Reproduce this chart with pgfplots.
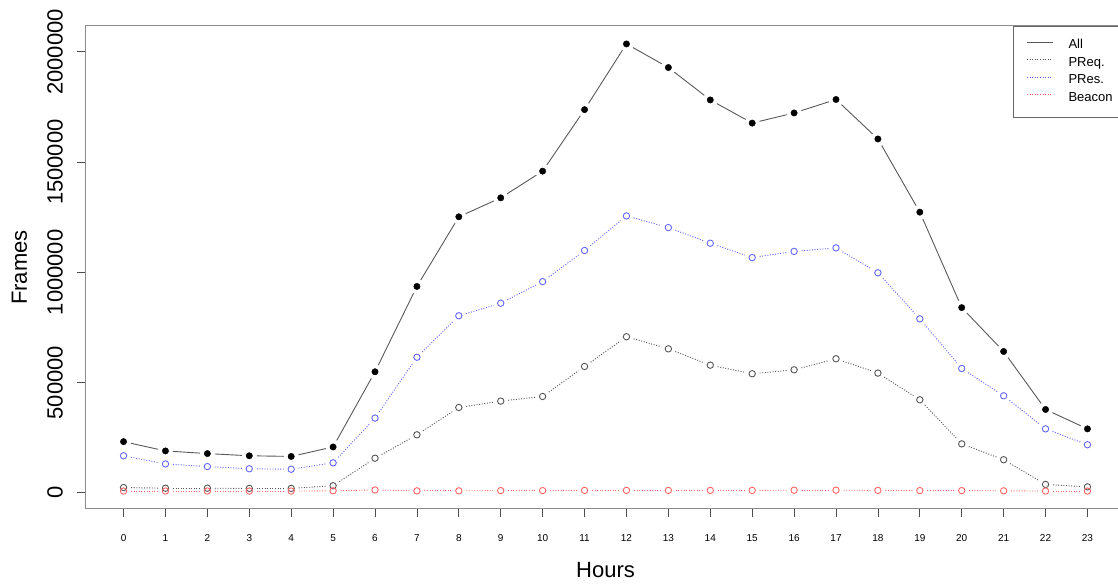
\documentclass[border=0pt]{standalone}
\usepackage{fontspec}
\setmainfont{Liberation Sans}
\usepackage{pgfplots}
\usepackage{pgfplotstable}
\pgfplotsset{compat=1.18}

\definecolor{rblue}{RGB}{100,100,255}
\definecolor{rred}{RGB}{255,100,100}
\definecolor{rgray}{RGB}{85,85,85}

% frames captured per hour of the day
\pgfplotstableread{
h  all      preq    pres     beacon
0  232000   24000   168000   8000
1  190000   21000   131000   8000
2  178000   21000   119000   8000
3  168000   20000   109000   8000
4  165000   20000   107000   8000
5  208000   32000   136000   9000
6  549000   157000  339000   13000
7  936000   263000  615000   9000
8  1252000  387000  803000   9000
9  1338000  416000  860000   10000
10 1459000  437000  958000   10000
11 1738000  573000  1099000  11000
12 2036000  708000  1256000  11000
13 1929000  653000  1203000  11000
14 1782000  579000  1132000  11000
15 1677000  540000  1067000  11000
16 1723000  558000  1095000  12000
17 1784000  608000  1111000  12000
18 1605000  543000  998000   11000
19 1273000  422000  789000   10000
20 840000   222000  564000   10000
21 641000   150000  440000   9000
22 378000   38000   290000   8000
23 290000   27000   218000   8000
}\frames

% step to the next hour, so each segment can be drawn on its own
\pgfplotstablecreatecol[create col/expr={\nextrow{all}-\thisrow{all}}]{dall}{\frames}
\pgfplotstablecreatecol[create col/expr={\nextrow{preq}-\thisrow{preq}}]{dpreq}{\frames}
\pgfplotstablecreatecol[create col/expr={\nextrow{pres}-\thisrow{pres}}]{dpres}{\frames}
\pgfplotstablecreatecol[create col/expr={\nextrow{beacon}-\thisrow{beacon}}]{dbeacon}{\frames}

\pgfplotsset{
  seg/.style={line width=0.9pt, shorten <=7.5pt, shorten >=7.5pt,
    restrict x to domain=0:22, forget plot},
  dotted line/.style={dash pattern=on 1pt off 1.6pt},
}

\begin{document}
\begin{tikzpicture}[x=1pt,y=1pt]
\useasboundingbox (0,0) rectangle (1118,585);
\begin{axis}[
  at={(85pt,76pt)}, anchor=south west,
  scale only axis, width=1041pt, height=483pt,
  xmin=-0.92, xmax=23.92, ymin=-73400, ymax=2117400,
  axis line style={black!45, line width=1pt},
  tick style={black!70, line width=0.8pt},
  tick align=outside, major tick length=8.5pt,
  xtick pos=bottom, ytick pos=left,
  scaled x ticks=false, scaled y ticks=false,
  /pgf/number format/assume math mode=true,
  xtick={0,...,23},
  ytick={0,500000,1000000,1500000,2000000},
  yticklabels={0,500000,1000000,1500000,2000000},
  xticklabel style={font=\fontsize{10}{12}\selectfont, anchor=base, inner sep=0pt, yshift=-24pt},
  yticklabel style={font=\fontsize{22}{26}\selectfont, xshift=-14pt, rotate=90, anchor=base, inner sep=0pt},
  xlabel={Hours}, ylabel={Frames},
  xlabel style={font=\fontsize{22}{26}\selectfont, at={(axis description cs:0.5,-0.14286)}, anchor=base},
  ylabel style={font=\fontsize{22}{26}\selectfont, at={(axis description cs:-0.05572,0.5)}, anchor=base},
  legend style={at={(rel axis cs:1,1)}, anchor=north east, draw=black!60, line width=0.8pt,
    fill=white, inner xsep=13pt, inner ysep=13pt, font=\fontsize{13}{16}\selectfont,
    row sep=5pt, column sep=15pt,
    nodes={inner sep=0pt, text height=9.5pt, text depth=3pt, anchor=west}},
  legend cell align=left,
  legend image code/.code={\path (0pt,0pt); \draw[#1] (0pt,3.5pt) -- (26pt,3.5pt);},
]
% All
\addplot[black!65, seg, quiver={u=1, v=\thisrow{dall}}] table[x=h, y=all] {\frames};
\addplot[only marks, mark=*, mark size=3.2pt, black, forget plot] table[x=h, y=all] {\frames};
% PReq.
\addplot[rgray, seg, dotted line, quiver={u=1, v=\thisrow{dpreq}}] table[x=h, y=preq] {\frames};
\addplot[only marks, mark=o, mark size=3.2pt, mark options={solid, line width=0.9pt}, rgray, forget plot]
  table[x=h, y=preq] {\frames};
% PRes.
\addplot[rblue, seg, dotted line, quiver={u=1, v=\thisrow{dpres}}] table[x=h, y=pres] {\frames};
\addplot[only marks, mark=o, mark size=3.2pt, mark options={solid, line width=0.9pt}, rblue, forget plot]
  table[x=h, y=pres] {\frames};
% Beacon
\addplot[rred, seg, dotted line, quiver={u=1, v=\thisrow{dbeacon}}] table[x=h, y=beacon] {\frames};
\addplot[only marks, mark=o, mark size=3.2pt, mark options={solid, line width=0.9pt}, rred, forget plot]
  table[x=h, y=beacon] {\frames};
% legend
\addlegendimage{black!65, line width=0.9pt}
\addlegendentry{All}
\addlegendimage{rgray, line width=0.9pt, dotted line}
\addlegendentry{PReq.}
\addlegendimage{rblue, line width=0.9pt, dotted line}
\addlegendentry{PRes.}
\addlegendimage{rred, line width=0.9pt, dotted line}
\addlegendentry{Beacon}
\end{axis}
\end{tikzpicture}
\end{document}
